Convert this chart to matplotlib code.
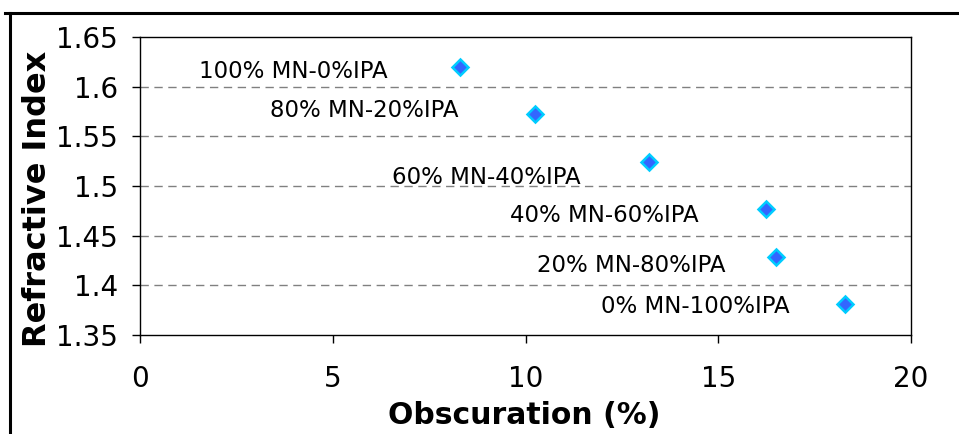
import matplotlib
matplotlib.use("Agg")
import matplotlib.pyplot as plt
from matplotlib.lines import Line2D

obscuration = [8.3, 10.25, 13.2, 16.25, 16.5, 18.3]
refractive_index = [1.620, 1.572, 1.524, 1.477, 1.429, 1.381]
labels = ["100% MN-0%IPA", "80% MN-20%IPA", "60% MN-40%IPA",
          "40% MN-60%IPA", "20% MN-80%IPA", "0% MN-100%IPA"]
# label anchor (right end x, y) in data units
label_pos = [(6.43, 1.6155), (8.25, 1.576), (11.42, 1.509),
             (14.5, 1.470), (15.2, 1.4195), (16.86, 1.379)]

plt.rcParams['font.family'] = ['DejaVu Sans']
fig = plt.figure(figsize=(9.59, 4.34), dpi=100)
ax = fig.add_axes([140/959, 1-335/434, (911-140)/959, (335-37)/434])

ax.plot(obscuration, refractive_index, linestyle='none', marker='D',
        markersize=8.5, markerfacecolor='#3366FF', markeredgecolor='#00CCFF',
        markeredgewidth=1.8, zorder=5, clip_on=False)

for (tx, ty), t in zip(label_pos, labels):
    ax.text(tx, ty, t, ha='right', va='center', fontsize=16.5, color='black')

ax.set_xlim(0, 20)
ax.set_ylim(1.35, 1.65)
ax.set_xticks([0, 5, 10, 15, 20])
ax.set_yticks([1.35, 1.4, 1.45, 1.5, 1.55, 1.6, 1.65])
ax.set_yticklabels(["1.35", "1.4", "1.45", "1.5", "1.55", "1.6", "1.65"])
ax.tick_params(axis='both', direction='out', length=5.5, width=1, labelsize=20)
ax.tick_params(axis='y', pad=10.5)
ax.tick_params(axis='x', pad=16)
for y in [1.4, 1.45, 1.5, 1.55, 1.6]:
    ax.axhline(y, color='#808080', linestyle=(0, (6, 4)), linewidth=1, zorder=1)
for s in ax.spines.values():
    s.set_linewidth(1)
    s.set_color('black')

fig.text(524/959, 1-416/434, "Obscuration (%)", fontsize=21.5, fontweight='bold',
         ha='center', va='center')
fig.text(38/959, 1-199/434, "Refractive Index", fontsize=23, fontweight='bold',
         ha='center', va='center', rotation=90)

# outer frame lines (top and left)
fig.add_artist(Line2D([5/959, 1], [1-13/434, 1-13/434], color='black', linewidth=2.2,
                      transform=fig.transFigure))
fig.add_artist(Line2D([10/959, 10/959], [0, 1-13/434], color='black', linewidth=2.2,
                      transform=fig.transFigure))

fig.savefig("out.png", dpi=100, facecolor='white')
